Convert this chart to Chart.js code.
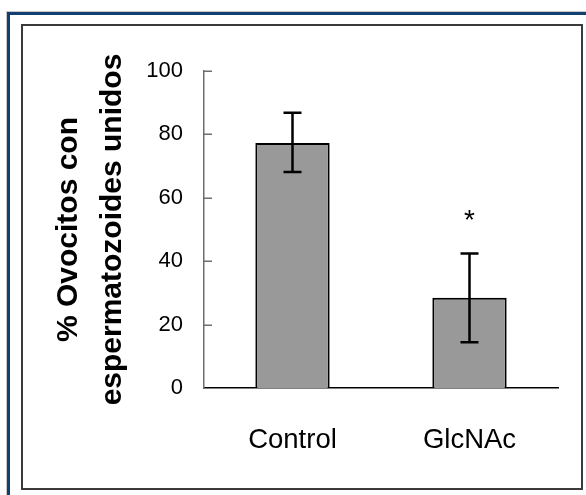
<!DOCTYPE html>
<html>
<head>
<meta charset="utf-8">
<title>Ovocitos con espermatozoides unidos</title>
<script src="https://cdn.jsdelivr.net/npm/chart.js@4.4.0/dist/chart.umd.min.js"></script>
<style>
  html, body { margin: 0; padding: 0; background: #fff; overflow: hidden; }
  #wrap { position: relative; width: 586px; height: 495px; }
  .frame-outer {
    position: absolute; left: 7px; top: 12px; width: 620px; height: 520px;
    border: 3px solid #123f72; box-shadow: 0 0 0 1px #c8c8c8;
  }
  .frame-inner {
    position: absolute; left: 21px; top: 24px; width: 558px; height: 462px;
    border: 2px solid #3a3a3a;
  }
  #chart { position: absolute; left: 0; top: 0; }
</style>
</head>
<body>
<div id="wrap">
  <div class="frame-outer"></div>
  <div class="frame-inner"></div>
  <canvas id="chart" width="586" height="495"></canvas>
</div>
<script>
// Data
const categories = ["Control", "GlcNAc"];
const means = [77.3, 28.5];
const errLow = [68.1, 14.4];
const errHigh = [86.8, 42.4];
const marks = ["", "*"];
const yTicks = [0, 20, 40, 60, 80, 100];

const FONT = "'Liberation Sans', Arial, sans-serif";
Chart.defaults.font.family = FONT;
Chart.defaults.color = "#000";

// Error bars + significance marks
const errorBars = {
    id: "errorBars",
    afterDatasetsDraw(chart) {
        const ctx = chart.ctx;
        const y = chart.scales.y;
        const meta = chart.getDatasetMeta(0);
        ctx.save();
        ctx.strokeStyle = "#000";
        ctx.lineWidth = 2.5;
        meta.data.forEach((bar, i) => {
            const x = bar.x;
            const top = y.getPixelForValue(errHigh[i]);
            const bot = y.getPixelForValue(errLow[i]);
            ctx.beginPath();
            ctx.moveTo(x, top); ctx.lineTo(x, bot);
            ctx.moveTo(x - 9, top); ctx.lineTo(x + 9, top);
            ctx.moveTo(x - 9, bot); ctx.lineTo(x + 9, bot);
            ctx.stroke();
            if (marks[i]) {
                ctx.fillStyle = "#000";
                ctx.font = "28px " + FONT;
                ctx.textAlign = "center";
                ctx.textBaseline = "alphabetic";
                ctx.fillText(marks[i], x, top - 25);
            }
        });
        ctx.restore();
    }
};

// Tick marks pointing into the plot
const innerTicks = {
    id: "innerTicks",
    afterDraw(chart) {
        const ctx = chart.ctx;
        const y = chart.scales.y;
        const left = chart.chartArea.left;
        ctx.save();
        ctx.strokeStyle = "#6e6e6e";
        ctx.lineWidth = 1.5;
        yTicks.slice(1).forEach(v => {
            const py = Math.round(y.getPixelForValue(v)) + 0.25;
            ctx.beginPath();
            ctx.moveTo(left, py);
            ctx.lineTo(left + 8, py);
            ctx.stroke();
        });
        ctx.restore();
    }
};

new Chart(document.getElementById("chart"), {
    type: "bar",
    data: {
        labels: categories,
        datasets: [{
            data: means,
            backgroundColor: "#999999",
            borderColor: "#000",
            borderWidth: 2,
            barPercentage: 0.42,
            categoryPercentage: 1
        }]
    },
    options: {
        responsive: false,
        animation: false,
        layout: { padding: { left: 0, right: 28, top: 71, bottom: 0 } },
        plugins: { legend: { display: false }, tooltip: { enabled: false } },
        scales: {
            x: {
                grid: { display: false },
                border: { color: "#000", width: 1.5 },
                ticks: { padding: 28, font: { size: 27.5 } },
                afterFit(s) { s.height = 107; }
            },
            y: {
                min: 0,
                max: 100,
                afterBuildTicks(s) { s.ticks = yTicks.map(v => ({ value: v })); },
                grid: { display: false, drawTicks: false },
                border: { color: "#6e6e6e", width: 1.5 },
                ticks: { padding: 21, font: { size: 22 } },
                title: {
                    display: true,
                    text: ["% Ovocitos con", "espermatozoides unidos"],
                    font: { size: 30, weight: "bold", lineHeight: 1.47 },
                    padding: { top: 47, bottom: 0 }
                },
                afterFit(s) { s.width = 204; }
            }
        }
    },
    plugins: [errorBars, innerTicks]
});
</script>
</body>
</html>
